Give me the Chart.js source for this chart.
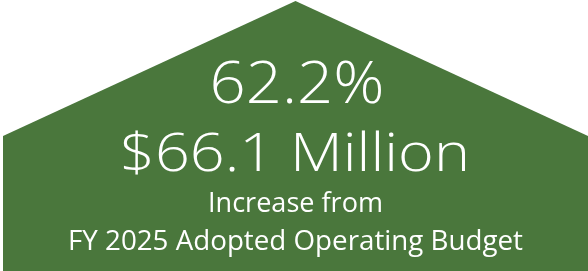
<!DOCTYPE html>
<html lang="en">
<head>
    <meta charset="UTF-8">
    <title>FY 2025 Operating Budget Increase</title>
    <script src="https://cdn.jsdelivr.net/npm/chart.js"></script>
    <style>
        html, body { margin: 0; padding: 0; background: #fff; }
        #wrap { position: relative; width: 588px; height: 271px; overflow: hidden; }
        #house { position: absolute; left: 0; top: 0; }
        #labels { position: absolute; left: 0; top: 0; }
        .big { font-family: "Open Sans", Lato, sans-serif; font-weight: 300; fill: #fff; }
        .small { font-family: "Open Sans", Lato, sans-serif; font-weight: 400; fill: #fff; }
    </style>
</head>
<body>
    <div id="wrap">
        <canvas id="house" width="588" height="271"></canvas>
        <svg id="labels" width="588" height="271">
            <text id="t1" class="big" x="297" y="103" font-size="58" text-anchor="middle" textLength="175" lengthAdjust="spacingAndGlyphs"></text>
            <text id="t2" class="big" x="295" y="171" font-size="54" text-anchor="middle" textLength="350" lengthAdjust="spacingAndGlyphs"></text>
            <text id="t3" class="small" x="295.5" y="212" font-size="28" text-anchor="middle" textLength="175" lengthAdjust="spacingAndGlyphs"></text>
            <text id="t4" class="small" x="295.5" y="250" font-size="28" text-anchor="middle" textLength="455" lengthAdjust="spacingAndGlyphs"></text>
        </svg>
    </div>
    <script>
        // house outline: eaves / ridge heights on a 0-270 scale
        const categories = ['Left eave', 'Ridge', 'Right eave'];
        const roofHeights = [135, 270, 135];

        // headline text
        const percentIncrease = '62.2%';
        const dollarIncrease = '$66.1 Million';
        const captionLines = ['Increase from', 'FY 2025 Adopted Operating Budget'];

        const green = '#4a773c';

        new Chart(document.getElementById('house'), {
            type: 'line',
            data: {
                labels: categories,
                datasets: [{
                    data: roofHeights,
                    fill: 'start',
                    backgroundColor: green,
                    borderWidth: 0,
                    pointRadius: 0,
                    tension: 0
                }]
            },
            options: {
                responsive: false,
                animation: false,
                layout: { padding: { left: 3, right: 0, top: 1, bottom: 0 } },
                plugins: { legend: { display: false }, tooltip: { enabled: false } },
                scales: {
                    x: { display: false, offset: false },
                    y: { display: false, min: 0, max: 270 }
                }
            }
        });

        document.getElementById('t1').textContent = percentIncrease;
        document.getElementById('t2').textContent = dollarIncrease;
        document.getElementById('t3').textContent = captionLines[0];
        document.getElementById('t4').textContent = captionLines[1];
    </script>
</body>
</html>
